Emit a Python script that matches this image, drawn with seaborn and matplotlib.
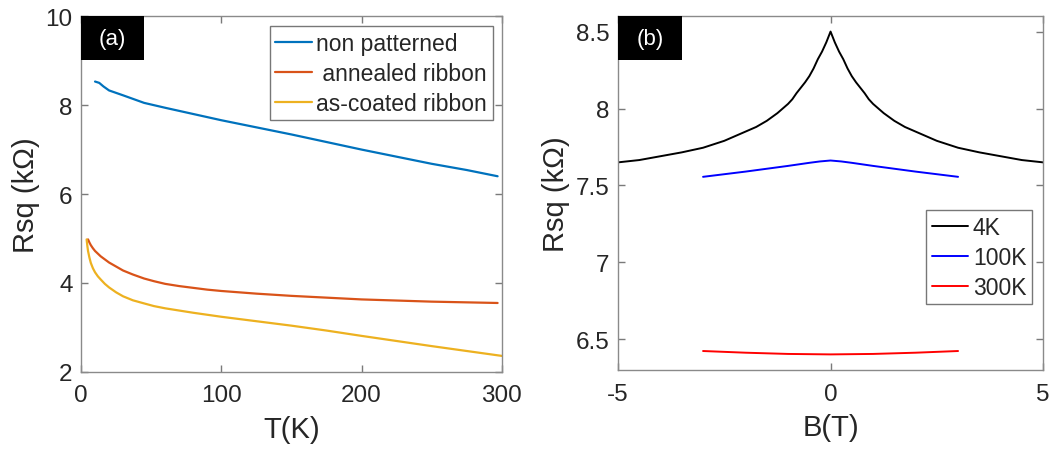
import matplotlib
matplotlib.use("Agg")
import matplotlib.pyplot as plt
import seaborn as sns
from matplotlib.patches import Rectangle
from matplotlib.ticker import FuncFormatter

# panel (a): sheet resistance vs temperature
T_np = [10, 13, 16, 20, 30, 45, 60, 80, 100, 125, 150, 175, 200, 225, 250, 275, 297]
R_np = [8.53, 8.50, 8.42, 8.33, 8.22, 8.05, 7.94, 7.80, 7.66, 7.50, 7.34, 7.17, 7.00,
        6.84, 6.68, 6.54, 6.40]

T_an = [5, 6, 7, 8.5, 10, 12, 14, 17, 20, 25, 30, 37, 45, 52, 60, 70, 80, 90, 100,
        125, 150, 175, 200, 250, 297]
R_an = [4.98, 4.91, 4.85, 4.78, 4.72, 4.66, 4.60, 4.53, 4.46, 4.37, 4.28, 4.19, 4.10,
        4.04, 3.98, 3.93, 3.89, 3.85, 3.82, 3.76, 3.71, 3.67, 3.63, 3.58, 3.55]

T_ac = [4, 4.5, 5, 6, 7, 8.5, 10, 12, 14, 17, 20, 25, 30, 37, 45, 52, 60, 70, 80, 100,
        125, 150, 175, 200, 250, 300]
R_ac = [4.98, 4.84, 4.72, 4.57, 4.45, 4.33, 4.24, 4.15, 4.08, 3.98, 3.90, 3.79, 3.70,
        3.61, 3.54, 3.48, 3.43, 3.38, 3.33, 3.24, 3.14, 3.04, 2.93, 2.81, 2.58, 2.36]

labels_a = ["non patterned", " annealed ribbon", "as-coated ribbon"]
colors_a = ["#0072BD", "#D95319", "#EDB120"]

# panel (b): magnetoresistance
B_4K = [-5, -4.5, -4, -3.5, -3, -2.5, -2, -1.75, -1.5, -1.25, -1, -0.9, -0.8, -0.7,
        -0.6, -0.5, -0.4, -0.3, -0.2, -0.1, -0.05, 0, 0.05, 0.1, 0.2, 0.3, 0.4, 0.5,
        0.6, 0.7, 0.8, 0.9, 1, 1.25, 1.5, 1.75, 2, 2.5, 3, 3.5, 4, 4.5, 5]
R_4K = [7.65, 7.665, 7.69, 7.715, 7.745, 7.79, 7.85, 7.88, 7.92, 7.97, 8.03, 8.06,
        8.10, 8.135, 8.17, 8.21, 8.26, 8.32, 8.37, 8.43, 8.465, 8.50, 8.465, 8.43,
        8.37, 8.32, 8.26, 8.21, 8.17, 8.135, 8.10, 8.06, 8.03, 7.97, 7.92, 7.88, 7.85,
        7.79, 7.745, 7.715, 7.69, 7.665, 7.65]

B_100K = [-3, -2, -1, -0.5, -0.25, 0, 0.25, 0.5, 1, 2, 3]
R_100K = [7.556, 7.59, 7.627, 7.647, 7.656, 7.662, 7.656, 7.647, 7.627, 7.59, 7.556]

B_300K = [-3, -2, -1, 0, 1, 2, 3]
R_300K = [6.424, 6.413, 6.405, 6.402, 6.405, 6.413, 6.424]

labels_b = ["4K", "100K", "300K"]
colors_b = ["black", "#0000FF", "#FF0000"]

sns.set_style("white")
plt.rcParams["font.family"] = ["Liberation Sans", "DejaVu Sans"]
plt.rcParams["axes.unicode_minus"] = False

fig = plt.figure(figsize=(10.52, 4.52), dpi=100)
ax1 = fig.add_axes([0.077, 0.175, 0.400, 0.787])
ax2 = fig.add_axes([0.5875, 0.179, 0.404, 0.783])

for x, y, lab, c in zip([T_np, T_an, T_ac], [R_np, R_an, R_ac], labels_a, colors_a):
    sns.lineplot(x=x, y=y, color=c, label=lab, linewidth=1.6, ax=ax1)

for x, y, lab, c in zip([B_4K, B_100K, B_300K], [R_4K, R_100K, R_300K], labels_b, colors_b):
    sns.lineplot(x=x, y=y, color=c, label=lab, linewidth=1.4, ax=ax2)

ax1.set_xlim(0, 300)
ax1.set_ylim(2, 10)
ax1.set_xticks([0, 100, 200, 300])
ax1.set_yticks([2, 4, 6, 8, 10])
ax1.set_xlabel("T(K)", labelpad=6)

ax2.set_xlim(-5, 5)
ax2.set_ylim(6.3, 8.6)
ax2.set_xticks([-5, 0, 5])
ax2.set_yticks([6.5, 7, 7.5, 8, 8.5])
ax2.yaxis.set_major_formatter(FuncFormatter(lambda v, p: "%g" % v))
ax2.set_xlabel("B(T)", labelpad=6)

for ax, tag in [(ax1, "(a)"), (ax2, "(b)")]:
    ax.set_ylabel("Rsq (k\u03a9)")
    ax.xaxis.label.set_size(21)
    ax.yaxis.label.set_size(21)
    ax.xaxis.label.set_color("#262626")
    ax.yaxis.label.set_color("#262626")
    ax.tick_params(direction="in", length=5, width=1, color="#7a7a7a",
                   labelsize=17.5, labelcolor="#262626", top=True, right=True,
                   bottom=True, left=True)
    ax.tick_params(axis="x", pad=9)
    ax.tick_params(axis="y", pad=6)
    for s in ax.spines.values():
        s.set_color("#8a8a8a")
        s.set_linewidth(1)
    ax.add_patch(Rectangle((0, 0.876), 0.150, 0.124, transform=ax.transAxes,
                           facecolor="black", edgecolor="none", zorder=5))
    ax.text(0.075, 0.938, tag, transform=ax.transAxes, color="white", fontsize=16,
            ha="center", va="center", zorder=6)

leg1 = ax1.legend(loc="upper right", bbox_to_anchor=(0.979, 0.972), fontsize=16.5,
                  frameon=True, fancybox=False, edgecolor="#555555", handlelength=1.6,
                  handletextpad=0.2, labelspacing=0.3, borderpad=0.25, borderaxespad=0)
leg2 = ax2.legend(loc="upper right", bbox_to_anchor=(0.974, 0.452), fontsize=16.5,
                  frameon=True, fancybox=False, edgecolor="#555555", handlelength=1.6,
                  handletextpad=0.2, labelspacing=0.3, borderpad=0.25, borderaxespad=0)
for leg in (leg1, leg2):
    leg.get_frame().set_linewidth(1)

fig.savefig("out.png", dpi=100)
